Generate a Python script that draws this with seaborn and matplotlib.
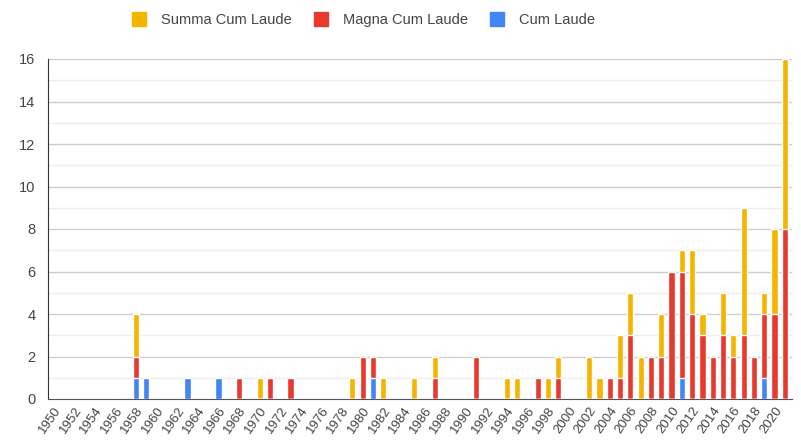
import pandas as pd
import matplotlib.pyplot as plt
import seaborn as sns
from matplotlib.lines import Line2D
from matplotlib.ticker import MultipleLocator

# Data: honours per year, 1950-2021
years = list(range(1950, 2022))

cum_laude = {1958: 1, 1959: 1, 1963: 1, 1966: 1, 1981: 1, 2011: 1, 2019: 1}

magna_cum_laude = {
    1958: 1, 1968: 1, 1971: 1, 1973: 1, 1980: 2, 1981: 1, 1987: 1, 1991: 2,
    1997: 1, 1999: 1, 2004: 1, 2005: 1, 2006: 3, 2008: 2, 2009: 2, 2010: 6,
    2011: 5, 2012: 4, 2013: 3, 2014: 2, 2015: 3, 2016: 2, 2017: 3, 2018: 2,
    2019: 3, 2020: 4, 2021: 8,
}

summa_cum_laude = {
    1958: 2, 1970: 1, 1979: 1, 1982: 1, 1985: 1, 1987: 1, 1994: 1, 1995: 1,
    1998: 1, 1999: 1, 2002: 2, 2003: 1, 2005: 2, 2006: 2, 2007: 2, 2009: 2,
    2011: 1, 2012: 3, 2013: 1, 2015: 2, 2016: 1, 2017: 6, 2019: 1, 2020: 4,
    2021: 8,
}

series_names = ["Summa Cum Laude", "Magna Cum Laude", "Cum Laude"]
colors = ["#F4B400", "#E8392F", "#4285F4"]

df = pd.DataFrame({"year": years})
df["cum"] = df["year"].map(cum_laude).fillna(0)
df["magna"] = df["year"].map(magna_cum_laude).fillna(0)
df["summa"] = df["year"].map(summa_cum_laude).fillna(0)
df["cum_magna"] = df["cum"] + df["magna"]
df["total"] = df["cum_magna"] + df["summa"]

sns.set_style("white")
plt.rcParams["font.family"] = ["Liberation Sans", "DejaVu Sans"]

fig = plt.figure(figsize=(8.01, 4.45), dpi=100)
ax = fig.add_axes([48 / 801, 46 / 445, 744 / 801, 340 / 445])

# stacked bars: draw cumulative heights from the top segment down
for col, color in [("total", colors[0]), ("cum_magna", colors[1]), ("cum", colors[2])]:
    sns.barplot(data=df, x="year", y=col, color=color, width=0.6,
                order=years, ax=ax, saturation=1, zorder=3)

ax.set_ylim(0, 16)
ax.set_xlim(-0.55, len(years) - 0.3)
ax.set_xlabel("")
ax.set_ylabel("")

ax.yaxis.set_major_locator(MultipleLocator(2))
ax.yaxis.set_minor_locator(MultipleLocator(1))
ax.grid(axis="y", which="major", color="#cccccc", linewidth=1, zorder=0)
ax.grid(axis="y", which="minor", color="#ededed", linewidth=1, zorder=0)
ax.set_axisbelow(True)

tick_pos = list(range(0, len(years), 2))
ax.set_xticks(tick_pos)
ax.set_xticklabels([str(years[i]) for i in tick_pos], rotation=55,
                   ha="right", rotation_mode="anchor", fontsize=9.5, color="#444444")
ax.tick_params(axis="x", length=0, pad=4)
ax.tick_params(axis="y", which="major", direction="inout", length=8, width=1,
               color="#333333", labelsize=10.5, labelcolor="#444444", pad=5)
ax.tick_params(axis="y", which="minor", length=0)

for side in ["top", "right"]:
    ax.spines[side].set_visible(False)
ax.spines["left"].set_color("#333333")
ax.spines["bottom"].set_color("#555555")

handles = [Line2D([0], [0], marker="s", linestyle="", markersize=10,
                  markerfacecolor=c, markeredgecolor=c) for c in colors]
fig.legend(handles, series_names, loc="center", bbox_to_anchor=(0.449, 0.955),
           ncol=3, frameon=False, fontsize=10.5, handletextpad=0.5,
           columnspacing=1.0, labelcolor="#444444")

fig.savefig("out.png", dpi=100)
